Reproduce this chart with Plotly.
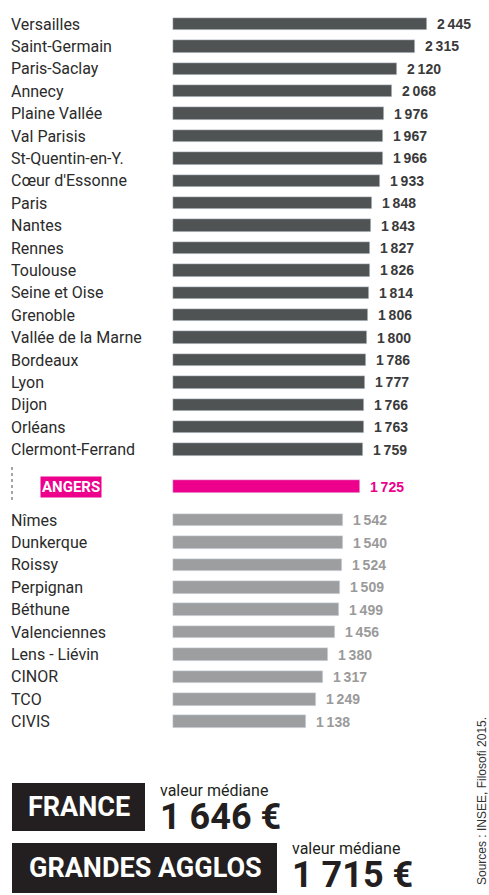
import plotly.graph_objects as go

# --- data ---
top_names = [
    "Versailles", "Saint-Germain", "Paris-Saclay", "Annecy", "Plaine Vallée",
    "Val Parisis", "St-Quentin-en-Y.", "Cœur d'Essonne", "Paris", "Nantes",
    "Rennes", "Toulouse", "Seine et Oise", "Grenoble", "Vallée de la Marne",
    "Bordeaux", "Lyon", "Dijon", "Orléans", "Clermont-Ferrand",
]
top_values = [2445, 2315, 2120, 2068, 1976, 1967, 1966, 1933, 1848, 1843,
              1827, 1826, 1814, 1806, 1800, 1786, 1777, 1766, 1763, 1759]

angers_name = "ANGERS"
angers_value = 1725

low_names = ["Nîmes", "Dunkerque", "Roissy", "Perpignan", "Béthune",
             "Valenciennes", "Lens - Liévin", "CINOR", "TCO", "CIVIS"]
low_values = [1542, 1540, 1524, 1509, 1499, 1456, 1380, 1317, 1249, 1138]

france_median = "1 646 €"
agglos_median = "1 715 €"
source = "Sources : INSEE, Filosofi 2015."

# --- style ---
W, H = 489, 895
DARK = "#4f5354"
LIGHT = "#9c9e9f"
PINK = "#ec008c"
BAR_START = -298          # bars in the original start left of zero
ANGERS_POS = 20.65        # row positions (row units)
LOW_START = 22.15
LABEL_FONT = "Roboto, Liberation Sans, sans-serif"
VALUE_FONT = "Liberation Sans, Arial, sans-serif"
BOLD = "Roboto, DejaVu Sans, sans-serif"


def fmt(v):
    return f"{v:,}".replace(",", "\u2009")


top_y = list(range(len(top_values)))
low_y = [LOW_START + j for j in range(len(low_values))]

fig = go.Figure()


def add_bars(names, values, ys, color, text_color, label_color="#2b2b2b"):
    fig.add_trace(go.Bar(
        x=[v - BAR_START for v in values], y=ys, base=BAR_START,
        orientation="h", width=0.56, marker_color=color,
        showlegend=False, hoverinfo="skip",
    ))
    for v, yy in zip(values, ys):
        fig.add_annotation(
            x=v, y=yy, text=fmt(v), showarrow=False, xanchor="left",
            yanchor="middle", xshift=8,
            font=dict(family=VALUE_FONT, size=14, color=text_color, weight="bold"),
        )
    if names is None:
        return
    for n, yy in zip(names, ys):
        fig.add_annotation(
            x=9 / W, xref="paper", y=yy, yref="y", text=n, showarrow=False,
            xanchor="left", yanchor="middle",
            font=dict(family=LABEL_FONT, size=16, color=label_color),
        )


add_bars(top_names, top_values, top_y, DARK, "#3a3a3a")
add_bars(low_names, low_values, low_y, LIGHT, "#9a9a9a")
add_bars(None, [angers_value], [ANGERS_POS], PINK, PINK)

fig.add_annotation(
    x=40 / W, xref="paper", y=ANGERS_POS, yref="y", text=angers_name,
    showarrow=False, xanchor="left", yanchor="middle", bgcolor=PINK, borderpad=1,
    font=dict(family=LABEL_FONT, size=15, color="white", weight="bold"),
)
fig.add_shape(type="line", xref="paper", yref="y", x0=12 / W, x1=12 / W,
              y0=19.78, y1=21.34, line=dict(color="#888", width=1.5, dash="dot"))

# bottom boxes
fig.add_shape(type="rect", xref="paper", yref="paper", x0=12 / W, x1=145 / W,
              y0=1 - 831 / H, y1=1 - 783 / H, fillcolor="#231f20", line_width=0)
fig.add_shape(type="rect", xref="paper", yref="paper", x0=12 / W, x1=277 / W,
              y0=1 - 893 / H, y1=1 - 843 / H, fillcolor="#231f20", line_width=0)

boxes = [
    ("FRANCE", 79, 807, 160, 790, 817, france_median),
    ("GRANDES AGGLOS", 145, 868, 292, 848, 875, agglos_median),
]
for label, lx, ly, vx, cy, my, med in boxes:
    fig.add_annotation(x=lx / W, y=1 - ly / H, xref="paper", yref="paper",
                       text=label, showarrow=False, xanchor="center", yanchor="middle",
                       font=dict(family=BOLD, size=27, color="white", weight="bold"))
    fig.add_annotation(x=vx / W, y=1 - cy / H, xref="paper", yref="paper",
                       text="valeur médiane", showarrow=False, xanchor="left",
                       yanchor="middle", xshift=-2,
                       font=dict(family=BOLD, size=16, color="#231f20"))
    fig.add_annotation(x=vx / W, y=1 - my / H, xref="paper", yref="paper",
                       text=med, showarrow=False, xanchor="left", yanchor="middle",
                       xshift=-2,
                       font=dict(family=BOLD, size=36, color="#231f20", weight="bold"))

fig.add_annotation(x=482 / W, y=1 - 801 / H, xref="paper", yref="paper",
                   text=source, showarrow=False, textangle=-90,
                   xanchor="center", yanchor="middle",
                   font=dict(family="Liberation Sans, sans-serif", size=12,
                             color="#333"))

# px = 200.6 + v * 0.09258 ; row pixel = 24 + r * 22.4
SLOPE = 0.09258
ZERO_PX = 200.6
ROW = 22.4
fig.update_layout(
    width=W, height=H, margin=dict(l=0, r=0, t=0, b=0),
    paper_bgcolor="white", plot_bgcolor="white", bargap=0,
    xaxis=dict(range=[-ZERO_PX / SLOPE, (W - ZERO_PX) / SLOPE], visible=False,
               fixedrange=True),
    yaxis=dict(range=[(H - 24) / ROW, -24 / ROW], visible=False, fixedrange=True),
    showlegend=False,
)

fig.write_html("out.html", config={"displayModeBar": False},
               post_script="document.body.style.margin='0px';")
